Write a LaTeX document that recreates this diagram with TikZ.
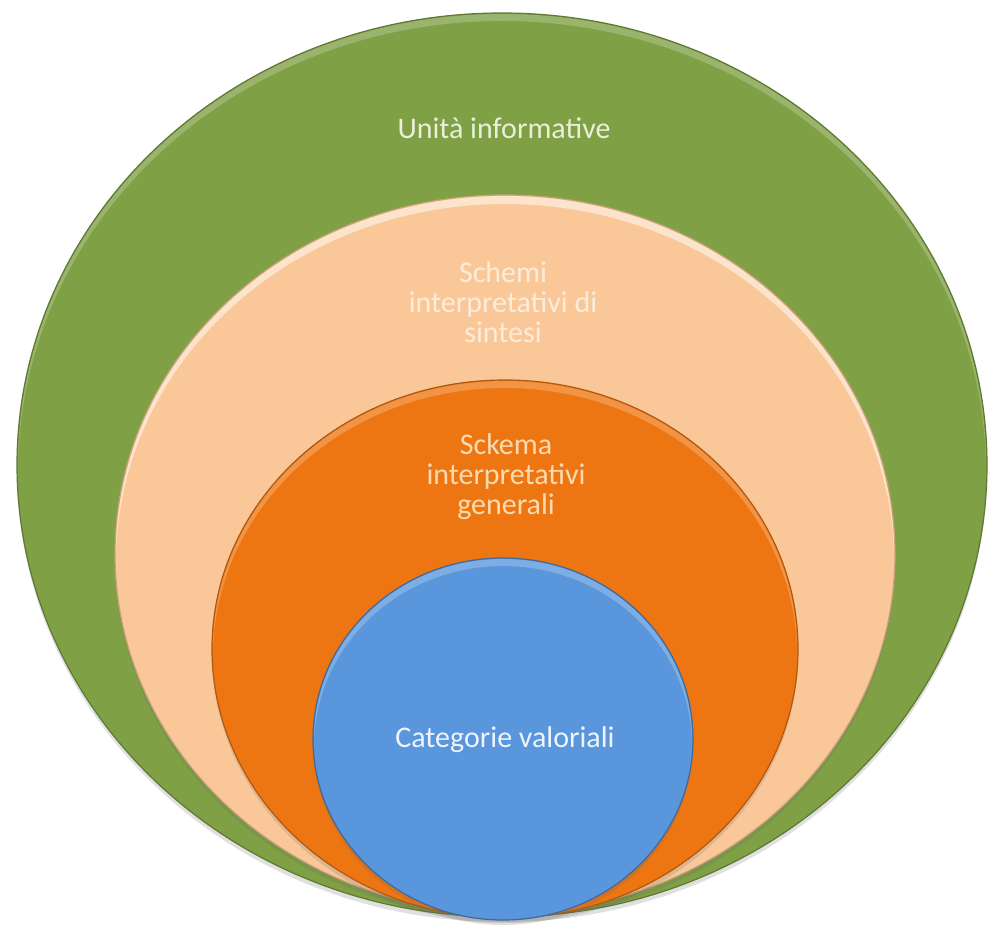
\documentclass[tikz,border=0pt]{standalone}
\usepackage{fontspec}
\setmainfont{Carlito}
\usetikzlibrary{shadows}
\definecolor{cgreen}{RGB}{127,160,68}
\definecolor{cpeach}{RGB}{250,200,152}
\definecolor{corange}{RGB}{238,118,18}
\definecolor{cblue}{RGB}{90,150,220}
\definecolor{tgreen}{RGB}{232,240,218}
\definecolor{tpeach}{RGB}{253,236,218}
\definecolor{torange}{RGB}{250,218,176}
\definecolor{tblue}{RGB}{238,243,252}
\tikzset{
  disc/.style={line width=1.2pt, drop shadow={shadow xshift=0pt, shadow yshift=-5pt, opacity=0.2, fill=black!60}},
  rim/.style={fill=white, opacity=0.22, even odd rule},
  lbl/.style={align=center, font=\fontsize{30}{30}\selectfont, inner sep=0pt}
}
\begin{document}
\begin{tikzpicture}[x=1pt,y=1pt]
\useasboundingbox (0,0) rectangle (988,-928);
\fill[white] (0,0) rectangle (988,-928);
% green
\path[disc, fill=cgreen, draw=cgreen!75!black] (502,-465) ellipse [x radius=485, y radius=452];
\begin{scope}
\clip (502,-465) ellipse [x radius=484, y radius=451];
\path[rim] (0,0) rectangle (988,-928) (502,-472) ellipse [x radius=484, y radius=451];
\end{scope}
% peach
\path[disc, fill=cpeach, draw=cpeach!80!black] (505,-554) ellipse [x radius=390, y radius=359];
\begin{scope}
\clip (505,-554) ellipse [x radius=389, y radius=358];
\path[rim, opacity=0.5] (0,0) rectangle (988,-928) (505,-562) ellipse [x radius=389, y radius=358];
\end{scope}
% orange
\path[disc, fill=corange, draw=corange!75!black] (505,-649) ellipse [x radius=293, y radius=269];
\begin{scope}
\clip (505,-649) ellipse [x radius=292, y radius=268];
\path[rim] (0,0) rectangle (988,-928) (505,-656) ellipse [x radius=292, y radius=268];
\end{scope}
% blue
\path[disc, fill=cblue, draw=cblue!70!black] (503,-739) ellipse [x radius=190, y radius=181];
\begin{scope}
\clip (503,-739) ellipse [x radius=189, y radius=180];
\path[rim] (0,0) rectangle (988,-928) (503,-746) ellipse [x radius=189, y radius=180];
\end{scope}
\node[lbl, text=tgreen] (t1) at (504,-128) {Unità informative};
\node[lbl, text=tpeach] (t2) at (503,-302) {Schemi\\interpretativi di\\sintesi};
\node[lbl, text=torange] (t3) at (506,-477) {Sckema\\interpretativi\\generali};
\node[lbl, text=tblue] (t4) at (505,-740) {Categorie valoriali};
\end{tikzpicture}
\end{document}
